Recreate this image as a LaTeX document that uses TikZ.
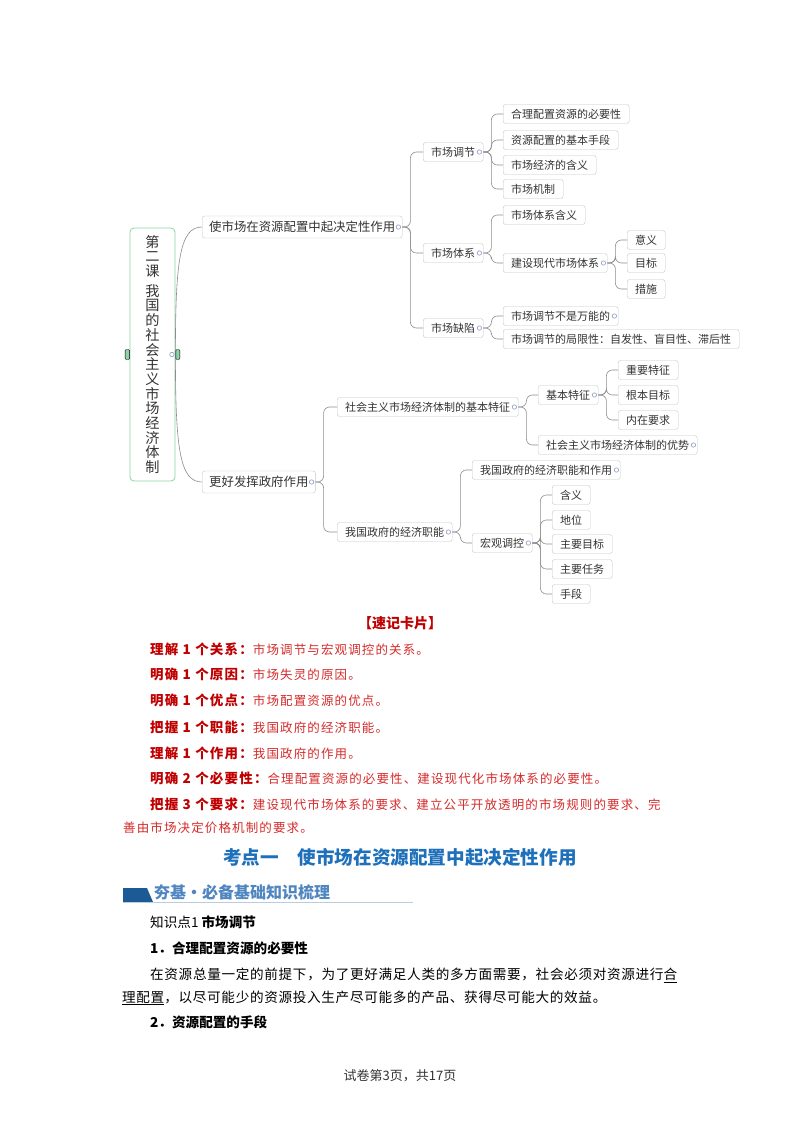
\documentclass[tikz,border=0pt]{standalone}
\usepackage{fontspec}
\setmainfont{Noto Sans CJK SC}
\newfontfamily\cardfont[LetterSpace=9]{Noto Sans CJK SC}
\newfontfamily\bodyfont[LetterSpace=5]{Noto Sans CJK SC}
\usetikzlibrary{calc,positioning}
\definecolor{linkgray}{HTML}{8C8C8C}
\definecolor{boxline}{HTML}{C6C6C6}
\definecolor{knobline}{HTML}{8A9AC2}
\definecolor{rootline}{HTML}{8ED3A6}
\definecolor{inkgray}{HTML}{333333}
\definecolor{cardlabel}{HTML}{C00000}
\definecolor{cardtext}{HTML}{D52B2B}
\definecolor{headblue}{HTML}{1E70BA}
\definecolor{bannerblue}{HTML}{1B5A95}
\definecolor{bannertext}{HTML}{4F86C0}
\definecolor{bannerline}{HTML}{B9CCE0}
\newcommand{\cardtag}[1]{{\fontsize{13.5}{15}\selectfont\bfseries\color{cardlabel}#1}}

\begin{document}
\begin{tikzpicture}[x=1pt,y=-1pt,
    lessonbox/.style={draw=rootline, line width=0.8pt, rounded corners=4pt, fill=white, minimum width=45pt, minimum height=253pt, align=center, inner sep=0pt, text=inkgray, font=\fontsize{14.2}{14.7}\selectfont},
    topic/.style={draw=boxline, fill=white, rounded corners=2.5pt, minimum height=19pt, inner xsep=8pt, inner ysep=2pt, anchor=west, text=inkgray, font=\fontsize{11}{13}\selectfont},
    bigtopic/.style={topic, minimum height=22pt, inner xsep=7pt, font=\fontsize{12.4}{14}\selectfont},
    link/.style={draw=linkgray, line width=0.6pt, rounded corners=6pt, to path={-- ++(8,0) |- (\tikztotarget)}},
    rootlink/.style={draw=linkgray, line width=0.6pt},
    knob/.style={draw=knobline, fill=white, line width=0.6pt},
    handle/.style={fill=rootline, rounded corners=1pt},
    card/.style={anchor=west, inner sep=0pt, text=cardtext, font=\fontsize{12.5}{15}\selectfont\cardfont},
    body/.style={anchor=west, inner sep=0pt, text=black, font=\fontsize{13.6}{16}\selectfont}
  ]
  \fill[white] (0,0) rectangle (800,1132);
  \useasboundingbox (0,0) rectangle (800,1132);

  % mind map
  \node[lessonbox] (lesson) at (152.5,354.5) {第\\二\\课\\[5pt]我\\国\\的\\社\\会\\主\\义\\市\\场\\经\\济\\体\\制};
  \node[bigtopic] (market) at (202,227) {使市场在资源配置中起决定性作用};
  \node[bigtopic] (govt) at (202,482) {更好发挥政府作用};

  \node[topic] (adjust) at (423,152) {市场调节};
  \node[topic] (system) at (423,253) {市场体系};
  \node[topic] (failure) at (423,328) {市场缺陷};

  \node[topic] (need) at (503,114) {合理配置资源的必要性};
  \node[topic] (means) at (503,140) {资源配置的基本手段};
  \node[topic] (meaning) at (503,165) {市场经济的含义};
  \node[topic] (mech) at (503,189) {市场机制};
  \node[topic] (sysdef) at (503,215) {市场体系含义};
  \node[topic] (build) at (503,263) {建设现代市场体系};
  \node[topic] (sense) at (627,240) {意义};
  \node[topic] (goal) at (627,263) {目标};
  \node[topic] (steps) at (627,289) {措施};
  \node[topic] (notall) at (503,316) {市场调节不是万能的};
  \node[topic] (limit) at (503,339) {市场调节的局限性：自发性、盲目性、滞后性};

  \node[topic] (feature) at (337,407) {社会主义市场经济体制的基本特征};
  \node[topic] (basic) at (538,395) {基本特征};
  \node[topic] (keyfeat) at (618,370) {重要特征};
  \node[topic] (aim) at (618,395) {根本目标};
  \node[topic] (inner) at (618,420) {内在要求};
  \node[topic] (edge) at (538,445) {社会主义市场经济体制的优势};
  \node[topic] (role) at (337,532) {我国政府的经济职能};
  \node[topic] (duty) at (472,470) {我国政府的经济职能和作用};
  \node[topic] (macro) at (472,543) {宏观调控};
  \node[topic] (mdef) at (552,495) {含义};
  \node[topic] (mpos) at (552,520) {地位};
  \node[topic] (mgoal) at (552,544) {主要目标};
  \node[topic] (mtask) at (552,569) {主要任务};
  \node[topic] (mtool) at (552,594) {手段};

  \draw[rootlink] (lesson.east) .. controls +(0,-95) and +(-22,0) .. (market.west);
  \draw[rootlink] (lesson.east) .. controls +(0,95) and +(-22,0) .. (govt.west);
  \draw[link] (market.east) to (adjust.west);
  \draw[link] (market.east) to (system.west);
  \draw[link] (market.east) to (failure.west);
  \draw[link] (adjust.east) to (need.west);
  \draw[link] (adjust.east) to (means.west);
  \draw[link] (adjust.east) to (meaning.west);
  \draw[link] (adjust.east) to (mech.west);
  \draw[link] (system.east) to (sysdef.west);
  \draw[link] (system.east) to (build.west);
  \draw[link] (build.east) to (sense.west);
  \draw[link] (build.east) to (goal.west);
  \draw[link] (build.east) to (steps.west);
  \draw[link] (failure.east) to (notall.west);
  \draw[link] (failure.east) to (limit.west);
  \draw[link] (govt.east) to (feature.west);
  \draw[link] (govt.east) to (role.west);
  \draw[link] (feature.east) to (basic.west);
  \draw[link] (feature.east) to (edge.west);
  \draw[link] (basic.east) to (keyfeat.west);
  \draw[link] (basic.east) to (aim.west);
  \draw[link] (basic.east) to (inner.west);
  \draw[link] (role.east) to (duty.west);
  \draw[link] (role.east) to (macro.west);
  \draw[link] (macro.east) to (mdef.west);
  \draw[link] (macro.east) to (mpos.west);
  \draw[link] (macro.east) to (mgoal.west);
  \draw[link] (macro.east) to (mtask.west);
  \draw[link] (macro.east) to (mtool.west);

  % fold buttons
  \draw[handle] ([xshift=-4.5pt,yshift=5pt]lesson.west) rectangle ([yshift=-5pt]lesson.west);
  \draw[handle] ([xshift=0.5pt,yshift=5pt]lesson.east) rectangle ([xshift=4.5pt,yshift=-5pt]lesson.east);
  \draw[knob] ([xshift=-3.5pt]lesson.east) circle (2.2);
  \draw[knob] ([xshift=-4pt]market.east) circle (2.2);
  \draw[knob] ([xshift=-4pt]govt.east) circle (2.2);
  \draw[knob] ([xshift=-4pt]adjust.east) circle (2.2);
  \draw[knob] ([xshift=-4pt]system.east) circle (2.2);
  \draw[knob] ([xshift=-4pt]failure.east) circle (2.2);
  \draw[knob] ([xshift=-4pt]build.east) circle (2.2);
  \draw[knob] ([xshift=-4pt]notall.east) circle (2.2);
  \draw[knob] ([xshift=-4pt]feature.east) circle (2.2);
  \draw[knob] ([xshift=-4pt]basic.east) circle (2.2);
  \draw[knob] ([xshift=-4pt]edge.east) circle (2.2);
  \draw[knob] ([xshift=-4pt]role.east) circle (2.2);
  \draw[knob] ([xshift=-4pt]duty.east) circle (2.2);
  \draw[knob] ([xshift=-4pt]macro.east) circle (2.2);

  % quick card
  \node[inner sep=0pt, text=cardlabel, font=\fontsize{14}{16}\selectfont\bfseries] (cardhead) at (400,623) {【速记卡片】};
  \node[card] (card1) at (150,649) {\cardtag{理解 1 个关系：}市场调节与宏观调控的关系。};
  \node[card] (card2) at (150,674) {\cardtag{明确 1 个原因：}市场失灵的原因。};
  \node[card] (card3) at (150,700) {\cardtag{明确 1 个优点：}市场配置资源的优点。};
  \node[card] (card4) at (150,727) {\cardtag{把握 1 个职能：}我国政府的经济职能。};
  \node[card] (card5) at (150,753) {\cardtag{理解 1 个作用：}我国政府的作用。};
  \node[card] (card6) at (150,778) {\cardtag{明确 2 个必要性：}合理配置资源的必要性、建设现代化市场体系的必要性。};
  \node[card] (card7) at (150,804) {\cardtag{把握 3 个要求：}建设现代市场体系的要求、建立公平开放透明的市场规则的要求、完};
  \node[card] (card7b) at (123,828) {善由市场决定价格机制的要求。};

  % section head
  \node[inner sep=0pt, text=headblue, font=\fontsize{18.6}{21}\selectfont\bfseries] (title) at (400,857) {考点一　使市场在资源配置中起决定性作用};
  \fill[bannerblue] (123,888) -- (147,888) -- (153,902) -- (123,902) -- cycle;
  \draw[bannerline, line width=1.2pt] (123,902.5) -- (413,902.5);
  \node[anchor=west, inner sep=0pt, text=bannertext, font=\fontsize{16}{18}\selectfont\bfseries] (banner) at (154,892) {夯基・必备基础知识梳理};

  % text
  \node[body] (point) at (150,922) {知识点1\ {\bfseries 市场调节}};
  \node[body, font=\fontsize{13.6}{16}\selectfont\bfseries] (item1) at (150,948) {1．合理配置资源的必要性};
  \node[body, font=\fontsize{13.6}{16}\selectfont\bodyfont] (para1) at (150,975) {在资源总量一定的前提下，为了更好满足人类的多方面需要，社会必须对资源进行\underline{合}};
  \node[body, font=\fontsize{13.6}{16}\selectfont\bodyfont] (para2) at (122,998) {\underline{理配置}，以尽可能少的资源投入生产尽可能多的产品、获得尽可能大的效益。};
  \node[body, font=\fontsize{13.6}{16}\selectfont\bfseries] (item2) at (150,1022) {2．资源配置的手段};

  \node[inner sep=0pt, text=inkgray, font=\fontsize{13}{15}\selectfont] (foot) at (400,1076) {试卷第3页，共17页};
\end{tikzpicture}
\end{document}
